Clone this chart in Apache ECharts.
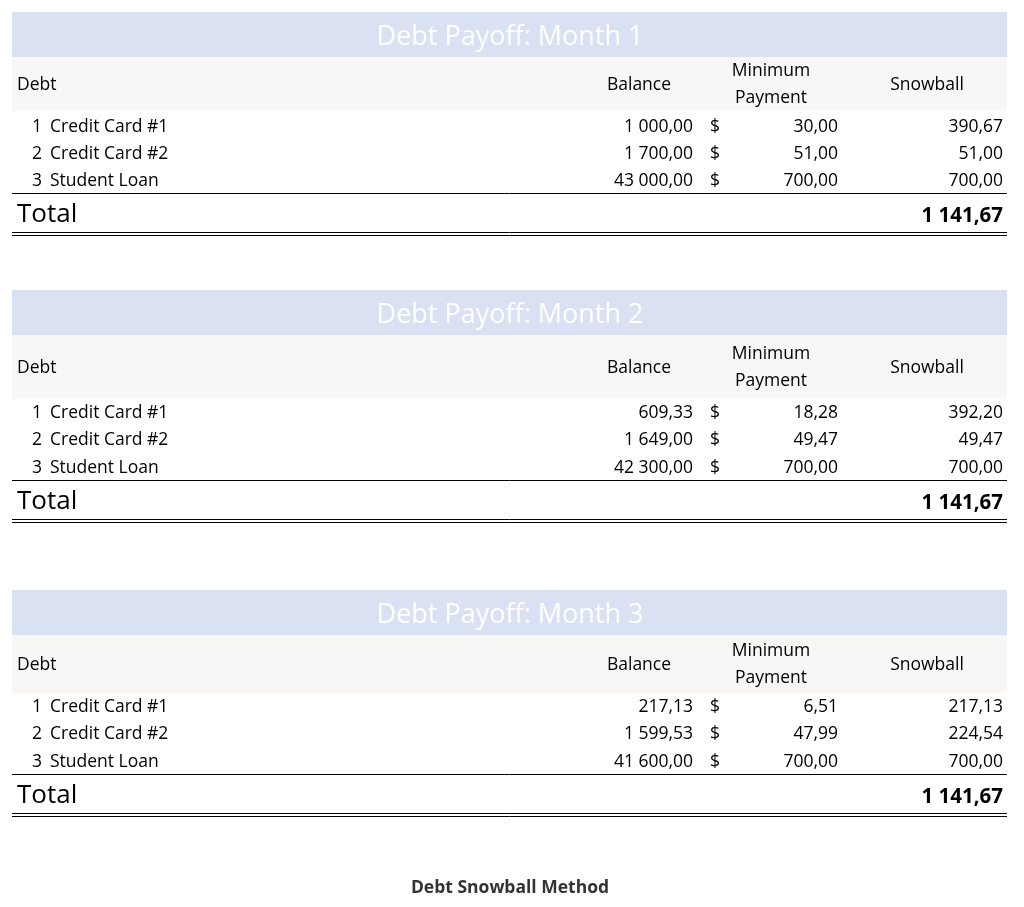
<!DOCTYPE html>
<html>
<head>
<meta charset="utf-8">
<script src="https://cdn.jsdelivr.net/npm/echarts@6/dist/echarts.min.js"></script>
<style>html,body{margin:0;padding:0;background:#fff}#chart{width:1024px;height:907px}</style>
</head>
<body>
<div id="chart"></div>
<script>
// data
var months = ['Debt Payoff: Month 1', 'Debt Payoff: Month 2', 'Debt Payoff: Month 3'];
var debts = ['Credit Card #1', 'Credit Card #2', 'Student Loan'];
var balances = [
	['1 000,00', '1 700,00', '43 000,00'],
	['609,33', '1 649,00', '42 300,00'],
	['217,13', '1 599,53', '41 600,00']
];
var minPayments = [
	['30,00', '51,00', '700,00'],
	['18,28', '49,47', '700,00'],
	['6,51', '47,99', '700,00']
];
var snowballs = [
	['390,67', '51,00', '700,00'],
	['392,20', '49,47', '700,00'],
	['217,13', '224,54', '700,00']
];
var totals = ['1 141,67', '1 141,67', '1 141,67'];

// layout of each block: title top, header bottom, first row y, row step
var blocks = [
	{ top: 12, headBottom: 111, row: 126, step: 27 },
	{ top: 290, headBottom: 399, row: 412, step: 27.5 },
	{ top: 590, headBottom: 693, row: 706, step: 27.5 }
];

var FONT = '"Open Sans", "Noto Sans", sans-serif';
var els = [];

function txt(x, y, s, opt) {
	opt = opt || {};
	els.push({
		type: 'text', x: x, y: y,
		style: {
			text: s, fill: opt.fill || '#000', font: (opt.weight || 'normal') + ' ' + (opt.size || 17.5) + 'px ' + FONT,
			textAlign: opt.align || 'left', textVerticalAlign: 'middle'
		}
	});
}
function line(y, w) {
	y = Math.round(y) + 0.5;
	els.push({ type: 'line', shape: { x1: 12, y1: y, x2: 1007, y2: y }, style: { stroke: '#000', lineWidth: w || 1 } });
}

blocks.forEach(function (b, i) {
	els.push({ type: 'rect', shape: { x: 12, y: b.top, width: 995, height: 45 }, style: { fill: '#d9e1f2' } });
	els.push({ type: 'rect', shape: { x: 12, y: b.top + 45, width: 995, height: b.headBottom - b.top - 45 }, style: { fill: '#f8f7f5' } });
	txt(510, b.top + 25, months[i], { fill: '#fff', size: 27, align: 'center' });
	var hm = (b.top + 45 + b.headBottom) / 2;
	txt(17, hm + 1, 'Debt');
	txt(639, hm + 1, 'Balance', { align: 'center' });
	txt(771, hm - 13, 'Minimum', { align: 'center' });
	txt(771, hm + 14, 'Payment', { align: 'center' });
	txt(927, hm + 1, 'Snowball', { align: 'center' });
	debts.forEach(function (d, j) {
		var y = b.row + j * b.step + 1;
		txt(32, y, String(j + 1));
		txt(50, y, d);
		txt(693, y, balances[i][j], { align: 'right' });
		txt(710, y, '$');
		txt(838, y, minPayments[i][j], { align: 'right' });
		txt(1003, y, snowballs[i][j], { align: 'right' });
	});
	var ly = b.row + 2 * b.step + 13;
	line(ly, 1);
	txt(17, ly + 22, 'Total', { size: 26 });
	txt(1003, ly + 23, totals[i], { weight: 'bold', size: 20.5, align: 'right' });
	line(ly + 39, 1);
	line(ly + 42, 1);
});

txt(510, 888, 'Debt Snowball Method', { weight: 'bold', size: 17.5, align: 'center', fill: '#333' });

var chart = echarts.init(document.getElementById('chart'));
chart.setOption({ animation: false, graphic: { elements: els } });
</script>
</body>
</html>
